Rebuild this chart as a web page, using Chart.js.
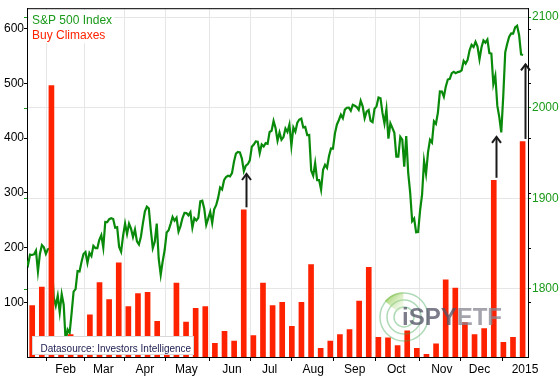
<!DOCTYPE html>
<html>
<head>
    <title>S&amp;P 500 Index vs Buy Climaxes</title>
    <script src="https://cdn.jsdelivr.net/npm/chart.js"></script>
    <style>
        body { margin: 0; background-color: #ffffff; }
        #wrap { width: 559px; height: 376px; }
    </style>
</head>
<body>
<div id="wrap"><canvas id="climaxChart" width="559" height="376"></canvas></div>
<script>
// S&P 500 daily closes, 2014 (one array per month)
const spxJan = [1831.98, 1831.37, 1826.77, 1837.88, 1837.49, 1838.13, 1842.37, 1819.20, 1838.88, 1848.38, 1845.89,
                1838.70, 1843.80, 1844.86, 1828.46, 1790.29, 1781.56, 1792.50, 1774.20, 1794.19, 1782.59];
const spxFeb = [1741.89, 1755.20, 1751.64, 1773.43, 1797.02, 1799.84, 1819.75, 1819.26, 1829.83, 1838.63,
                1840.76, 1828.75, 1839.78, 1836.25, 1847.61, 1845.12, 1845.16, 1854.29, 1859.45];
const spxMar = [1845.73, 1873.91, 1873.81, 1877.03, 1878.04, 1877.17, 1867.63, 1868.20, 1846.34, 1841.13, 1858.83,
                1872.25, 1860.77, 1872.01, 1866.52, 1857.44, 1865.62, 1852.56, 1849.04, 1857.62, 1872.34];
const spxApr = [1885.52, 1890.90, 1888.77, 1865.09, 1845.04, 1851.96, 1872.18, 1833.08, 1815.69, 1830.61, 1842.98,
                1862.31, 1864.85, 1871.89, 1879.55, 1875.39, 1878.61, 1863.40, 1869.43, 1878.33, 1883.95];
const spxMay = [1883.68, 1881.14, 1884.66, 1867.72, 1878.21, 1875.63, 1878.48, 1896.65, 1897.45, 1888.53, 1870.85,
                1877.86, 1885.08, 1872.83, 1888.03, 1892.49, 1900.53, 1911.91, 1909.78, 1920.03, 1923.57];
const spxJun = [1924.97, 1924.24, 1927.88, 1940.46, 1949.44, 1951.27, 1950.79, 1943.89, 1930.11, 1936.16, 1937.78,
                1941.99, 1956.98, 1959.48, 1962.87, 1962.61, 1949.98, 1959.53, 1957.22, 1960.96, 1960.23];
const spxJul = [1973.32, 1974.62, 1985.44, 1977.65, 1963.71, 1972.83, 1964.68, 1967.57, 1977.10, 1973.28, 1981.57,
                1958.12, 1978.22, 1973.63, 1983.53, 1987.01, 1987.98, 1978.34, 1978.91, 1969.95, 1970.07, 1930.67];
const spxAug = [1925.15, 1938.99, 1920.21, 1920.24, 1909.57, 1931.59, 1936.92, 1933.75, 1946.72, 1955.18, 1955.06,
                1971.74, 1981.60, 1986.51, 1992.37, 1988.40, 1997.92, 2000.02, 2000.12, 1996.74, 2003.37];
const spxSep = [2002.28, 2000.72, 1997.65, 2007.71, 2001.54, 1988.44, 1995.69, 1997.45, 1985.54, 1984.13, 1998.98,
                2001.57, 2011.36, 2010.40, 1994.29, 1982.77, 1998.30, 1965.99, 1982.85, 1977.80, 1972.29];
const spxOct = [1946.16, 1946.17, 1967.90, 1964.82, 1935.10, 1968.89, 1928.21, 1906.13, 1874.74, 1877.70, 1862.49,
                1862.76, 1886.76, 1904.01, 1941.28, 1927.11, 1950.82, 1964.58, 1961.63, 1985.05, 1982.30, 1994.65, 2018.05];
const spxNov = [2017.81, 2012.10, 2023.57, 2031.21, 2031.92, 2038.26, 2039.68, 2038.25, 2039.33, 2039.82,
                2041.32, 2051.80, 2048.72, 2052.75, 2063.50, 2069.41, 2067.03, 2072.83, 2067.56];
const spxDec = [2053.44, 2066.55, 2074.33, 2071.92, 2075.37, 2060.31, 2059.82, 2026.14, 2035.33, 2002.33, 1989.63,
                1972.74, 2012.89, 2061.23, 2070.65, 2078.54, 2082.17, 2081.88, 2088.77, 2090.57, 2080.35, 2058.90];
const spxJan15 = [2058.20];
const spx = [].concat(spxJan, spxFeb, spxMar, spxApr, spxMay, spxJun, spxJul, spxAug, spxSep, spxOct, spxNov, spxDec, spxJan15);

// Investors Intelligence buy climaxes, one value per week
const buyClimaxes = [94, 128, 496, 25, 41, 30, 77, 136, 105, 172, 92, 116, 118, 65, 30, 135, 64, 89, 92, 25,
                     47, 29, 269, 39, 135, 94, 100, 56, 100, 169, 16, 29, 41, 50, 102, 164, 36, 35, 21, 48,
                     16, 5, 24, 141, 126, 63, 41, 52, 323, 27, 36, 394];

// month labels and the trading day they start on
const monthLabels = ['Feb', 'Mar', 'Apr', 'May', 'Jun', 'Jul', 'Aug', 'Sep', 'Oct', 'Nov', 'Dec', '2015'];
const monthDay = [21, 40, 61, 82, 105, 124, 146, 167, 188, 211, 230, 253];

const leftTicks = [100, 200, 300, 400, 500, 600];
const rightTicks = [1800, 1900, 2000, 2100];

// arrows: from a climax bar up to the S&P level it points at
const arrowWeeks = [22, 48, 51];
const arrowLevels = [1928, 1969, 2049];

const GREEN = '#0a8a0a';
const GREEN_TEXT = '#1a9a1a';
const RED = '#ff2200';

Chart.defaults.font.family = '"Liberation Sans", Arial, sans-serif';
Chart.defaults.font.size = 12;
Chart.defaults.color = '#000';

function drawLogo(ctx, x, y) {
    ctx.save();
    ctx.globalAlpha = 0.75;
    ctx.strokeStyle = 'rgba(60,165,80,0.55)';
    ctx.lineWidth = 1.5;
    [24, 17, 10].forEach(r => {
        ctx.beginPath();
        ctx.arc(x, y, r, 0, Math.PI * 2);
        ctx.stroke();
    });
    const g = ctx.createLinearGradient(x - 16, y - 22, x, y - 8);
    g.addColorStop(0, 'rgba(120,190,40,0.9)');
    g.addColorStop(1, 'rgba(220,240,200,0.3)');
    ctx.fillStyle = g;
    ctx.beginPath();
    ctx.arc(x, y, 25, -2.45, -1.6);
    ctx.arc(x, y, 8, -1.6, -2.45, true);
    ctx.closePath();
    ctx.fill();
    ctx.font = 'bold 24px "Liberation Sans", Arial, sans-serif';
    ctx.textBaseline = 'alphabetic';
    ctx.fillStyle = '#505064';
    ctx.fillText('iSPY', x - 2, y + 8);
    const w = ctx.measureText('iSPY').width;
    ctx.fillStyle = '#858590';
    ctx.fillText('ETF', x - 2 + w, y + 8);
    ctx.restore();
}

const extras = {
    id: 'extras',
    afterDatasetsDraw(chart) {
        const { ctx, chartArea: a, scales } = chart;

        drawLogo(ctx, 404, 317);

        // arrows
        ctx.save();
        ctx.strokeStyle = '#1a1a1a';
        ctx.lineWidth = 2;
        arrowWeeks.forEach((w, i) => {
            const x = Math.round(scales.x2.getPixelForValue(w)) + 0.5;
            const y0 = scales.y.getPixelForValue(buyClimaxes[w]) - 2.5;
            const y1 = scales.y1.getPixelForValue(arrowLevels[i]);
            ctx.beginPath();
            ctx.moveTo(x, y0);
            ctx.lineTo(x, y1 + 1);
            ctx.stroke();
            ctx.beginPath();
            ctx.moveTo(x - 4.5, y1 + 7);
            ctx.lineTo(x, y1 + 1);
            ctx.lineTo(x + 4.5, y1 + 7);
            ctx.stroke();
        });
        ctx.restore();

        // legend
        ctx.save();
        ctx.fillStyle = '#ffffff';
        ctx.fillRect(a.left + 2, a.top + 2, 85, 33);
        ctx.font = '12px "Liberation Sans", Arial, sans-serif';
        ctx.textBaseline = 'alphabetic';
        ctx.fillStyle = GREEN_TEXT;
        ctx.fillText('S&P 500 Index', a.left + 5, a.top + 15.5);
        ctx.fillStyle = RED;
        ctx.fillText('Buy Climaxes', a.left + 5, a.top + 31);
        ctx.restore();

        // data source box
        ctx.save();
        ctx.fillStyle = '#ffffff';
        ctx.fillRect(a.left + 5.5, a.bottom - 21, 161, 18.5);
        ctx.strokeStyle = '#d8d8d8';
        ctx.lineWidth = 1;
        ctx.strokeRect(a.left + 5.5, a.bottom - 20.5, 161, 18);
        ctx.font = '10px "Liberation Sans", Arial, sans-serif';
        ctx.fillStyle = '#1c1c50';
        ctx.fillText('Datasource: Investors Intelligence', a.left + 13.5, a.bottom - 5.5);
        ctx.restore();
    },
    afterDraw(chart) {
        const { ctx, chartArea: a, scales } = chart;
        ctx.save();
        ctx.lineWidth = 1;
        // top frame line
        ctx.strokeStyle = '#000';
        ctx.beginPath();
        ctx.moveTo(a.left, a.top + 0.5);
        ctx.lineTo(a.right, a.top + 0.5);
        ctx.stroke();
        // S&P ticks repeated on the left axis
        ctx.strokeStyle = GREEN_TEXT;
        rightTicks.forEach(v => {
            const y = Math.round(scales.y1.getPixelForValue(v)) + 0.5;
            ctx.beginPath();
            ctx.moveTo(a.left - 3, y);
            ctx.lineTo(a.left, y);
            ctx.stroke();
        });
        // climax ticks repeated on the right axis
        ctx.strokeStyle = '#000';
        leftTicks.forEach(v => {
            const y = Math.round(scales.y.getPixelForValue(v)) + 0.5;
            ctx.beginPath();
            ctx.moveTo(a.right, y);
            ctx.lineTo(a.right + 3, y);
            ctx.stroke();
        });
        ctx.restore();
    }
};

const ctx = document.getElementById('climaxChart').getContext('2d');
const chart = new Chart(ctx, {
    type: 'bar',
    data: {
        datasets: [{
            type: 'bar',
            label: 'Buy Climaxes',
            data: buyClimaxes.map((v, i) => ({ x: i, y: v })),
            backgroundColor: RED,
            barThickness: 5,
            xAxisID: 'x2',
            yAxisID: 'y',
            order: 0
        }, {
            type: 'line',
            label: 'S&P 500 Index',
            data: spx.map((v, i) => ({ x: i, y: v })),
            borderColor: GREEN,
            borderWidth: 2.2,
            pointRadius: 0,
            tension: 0,
            clip: 0,
            xAxisID: 'x',
            yAxisID: 'y1',
            order: 1
        }]
    },
    options: {
        responsive: false,
        animation: false,
        devicePixelRatio: 1,
        layout: { padding: { top: 6, left: 0, right: 0, bottom: 0 } },
        plugins: {
            legend: { display: false },
            tooltip: { enabled: false }
        },
        scales: {
            x: {
                type: 'linear',
                position: 'bottom',
                offset: false,
                min: 1.47,
                max: 254.5,
                afterBuildTicks: s => { s.ticks = monthDay.map(v => ({ value: v })); },
                afterFit: s => { s.height = 19; },
                ticks: {
                    autoSkip: false,
                    maxRotation: 0,
                    minRotation: 0,
                    padding: 1,
                    color: '#000',
                    callback: (v, i) => monthLabels[i]
                },
                grid: {
                    color: c => (c.tick && c.tick.value >= 252) ? 'rgba(0,0,0,0)' : '#e6e6e6',
                    tickColor: '#000',
                    tickLength: 4
                },
                border: { color: '#000' }
            },
            x2: {
                type: 'linear',
                display: false,
                offset: false,
                min: -0.8,
                max: 51.3
            },
            y: {
                position: 'left',
                min: 0,
                max: 637.6,
                afterBuildTicks: s => { s.ticks = leftTicks.map(v => ({ value: v })); },
                afterFit: s => { s.width = 27; },
                ticks: { padding: 0, color: '#000', callback: v => String(v) },
                grid: { drawOnChartArea: false, tickColor: '#000', tickLength: 3 },
                border: { color: '#000' }
            },
            y1: {
                position: 'right',
                min: 1724.9,
                max: 2109.9,
                afterBuildTicks: s => { s.ticks = rightTicks.map(v => ({ value: v })); },
                afterFit: s => { s.width = 31; },
                ticks: { padding: 1, color: GREEN_TEXT, callback: v => String(v) },
                grid: { color: '#e6e6e6', tickColor: GREEN_TEXT, tickLength: 3 },
                border: { color: '#000' }
            }
        }
    },
    plugins: [extras]
});
</script>
</body>
</html>
